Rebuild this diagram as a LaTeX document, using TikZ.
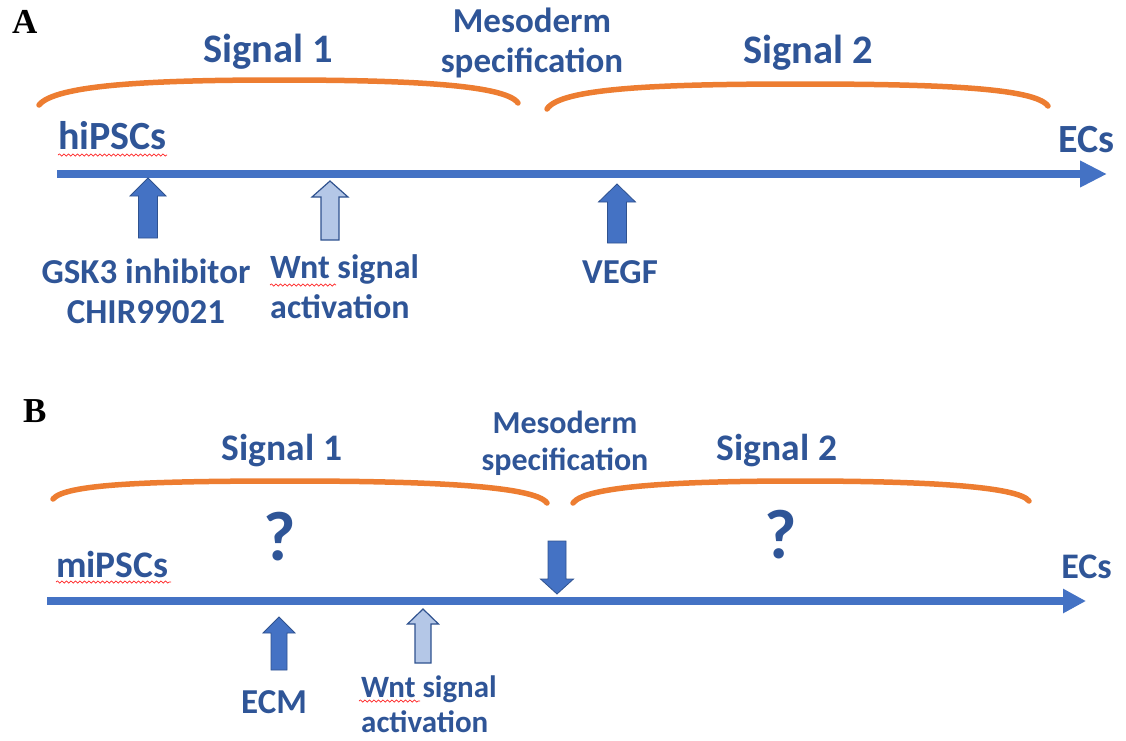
\documentclass[tikz,border=0pt]{standalone}
\usepackage{fontspec}
\setmainfont{Carlito}
\newfontfamily\timesf{Liberation Serif}
\usetikzlibrary{arrows.meta,decorations.pathmorphing}
\definecolor{txtblue}{HTML}{2F5597}
\definecolor{lineblue}{HTML}{4472C4}
\definecolor{edgeblue}{HTML}{2F528F}
\definecolor{lightblue}{HTML}{B4C7E7}
\definecolor{orangeb}{HTML}{ED7D31}
\newcommand\blkarrow[7]{%
  \draw[#7] (#1,#2) -- (#1+#5,#3) -- (#1+#6,#3) -- (#1+#6,#4) -- (#1-#6,#4) -- (#1-#6,#3) -- (#1-#5,#3) -- cycle;}
\begin{document}
\begin{tikzpicture}[x=1pt,y=-1pt,
  lbl/.style={text=txtblue, inner sep=0pt, anchor=base},
  panel/.style={inner sep=0pt, anchor=base west, font=\timesf\bfseries\fontsize{35}{40}\selectfont},
  brace/.style={draw=orangeb, line width=5.5pt, line cap=round},
  mainA/.style={draw=lineblue, line width=8pt, -{Triangle[length=27pt,width=25pt]}},
  mainB/.style={draw=lineblue, line width=7.5pt, -{Triangle[length=23pt,width=23pt]}},
  darkarr/.style={fill=lineblue, draw=edgeblue, line width=0.8pt},
  lightarr/.style={fill=lightblue, draw=edgeblue, line width=1.2pt},
  squig/.style={draw=red!85!white, line width=0.7pt, decorate, decoration={snake, amplitude=1.1pt, segment length=4.5pt}}]
\useasboundingbox (0,0) rectangle (1126,740);
% ---------------- Panel A ----------------
\node[panel] (labA) at (12,33) {A};
\node[lbl, font=\bfseries\fontsize{40.5}{46}\selectfont] (sig1A) at (268,62) {Signal 1};
\node[lbl, align=center, font=\bfseries\fontsize{35}{40}\selectfont] (mesoA) at (532,72) {Mesoderm\\specification};
\node[lbl, font=\bfseries\fontsize{40.5}{46}\selectfont] (sig2A) at (808,63) {Signal 2};
\draw[brace] (39,105) .. controls (55,85) and (150,80) .. (278,80) .. controls (400,80) and (505,84) .. (518,103);
\draw[brace] (547,109) .. controls (560,88) and (660,84) .. (800,84) .. controls (940,84) and (1035,88) .. (1048,106);
\node[lbl, anchor=base west, font=\bfseries\fontsize{40}{46}\selectfont] (hipsc) at (58,149) {hiPSCs};
\node[lbl, anchor=base east, font=\bfseries\fontsize{40}{46}\selectfont] (ecsA) at (1115,152) {ECs};
\coordinate (a0) at (57,174);
\coordinate (a1) at (1107,174);
\draw[mainA] (a0) -- (a1);
\blkarrow{148}{178}{196}{238}{18}{9.5}{darkarr}
\blkarrow{330}{181}{197}{240}{18}{9}{lightarr}
\blkarrow{617}{184}{202}{243}{18.5}{9.5}{darkarr}
\node[lbl, align=center, font=\bfseries\fontsize{35}{40}\selectfont] (gsk) at (146,323) {GSK3 inhibitor\\CHIR99021};
\node[lbl, anchor=base west, align=left, font=\bfseries\fontsize{34}{40}\selectfont] (wntA) at (270,318) {Wnt signal\\activation};
\node[lbl, font=\bfseries\fontsize{35}{40}\selectfont] (vegf) at (620,283) {VEGF};
\draw[squig] (58,155) -- (167,155);
\draw[squig] (270,285) -- (336,285);
% ---------------- Panel B ----------------
\node[panel] (labB) at (23,422) {B};
\node[lbl, font=\bfseries\fontsize{37.5}{43}\selectfont] (sig1B) at (282,460) {Signal 1};
\node[lbl, align=center, font=\bfseries\fontsize{32}{37}\selectfont] (mesoB) at (565,470) {Mesoderm\\specification};
\node[lbl, font=\bfseries\fontsize{37.5}{43}\selectfont] (sig2B) at (777,460) {Signal 2};
\draw[brace] (53,499) .. controls (65,484) and (150,481) .. (290,481) .. controls (430,481) and (535,486) .. (547,503);
\draw[brace] (573,503) .. controls (585,486) and (680,481) .. (800,481) .. controls (920,481) and (1018,486) .. (1029,501);
\node[lbl, font=\bfseries\fontsize{70}{80}\selectfont] (q1) at (280,560) {?};
\node[lbl, font=\bfseries\fontsize{70}{80}\selectfont] (q2) at (781,558) {?};
\node[lbl, anchor=base west, font=\bfseries\fontsize{37.5}{44}\selectfont] (mipsc) at (56,577) {miPSCs};
\node[lbl, anchor=base east, font=\bfseries\fontsize{36}{44}\selectfont] (ecsB) at (1112,578) {ECs};
\coordinate (b0) at (47,601);
\coordinate (b1) at (1086,601);
\draw[mainB] (b0) -- (b1);
\blkarrow{557}{594}{579}{541}{16.5}{9}{darkarr}
\blkarrow{279}{617}{633}{670}{16}{8}{darkarr}
\blkarrow{423}{609}{624}{663}{15.5}{8}{lightarr}
\node[lbl, font=\bfseries\fontsize{35}{40}\selectfont] (ecm) at (274,713) {ECM};
\node[lbl, anchor=base west, align=left, font=\bfseries\fontsize{31}{35}\selectfont] (wntB) at (361,732) {Wnt signal\\activation};
\draw[squig] (56,582) -- (171,582);
\draw[squig] (359,701) -- (420,701);
\end{tikzpicture}
\end{document}
